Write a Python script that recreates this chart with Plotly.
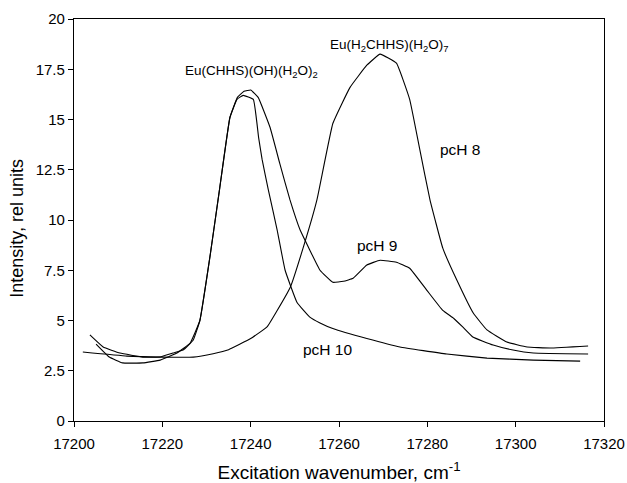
import plotly.graph_objects as go

# pcH 8
x_ph8 = [17202, 17212, 17220, 17227, 17231.5, 17235, 17240, 17243.7, 17246, 17249, 17252, 17255,
         17258.6, 17262.5, 17266.3, 17269.3, 17273, 17276, 17278.3, 17280.6, 17283.5, 17286.7,
         17290.4, 17293.5, 17298, 17302.6, 17307.8, 17316.4]
y_ph8 = [3.43, 3.23, 3.18, 3.18, 3.35, 3.55, 4.1, 4.68, 5.5, 6.67, 8.7, 11.0,
         14.8, 16.6, 17.7, 18.25, 17.8, 16.0, 13.5, 11.0, 8.6, 7.0,
         5.37, 4.53, 3.93, 3.68, 3.63, 3.73]

# pcH 9
x_ph9 = [17203.6, 17206.6, 17210.4, 17215.6, 17219.5, 17222.4, 17224.7, 17227, 17228.5, 17230.8,
         17233, 17235.3, 17237, 17238.5, 17240, 17241.7, 17244.4, 17246.6, 17248.9, 17251.2,
         17253.4, 17255.7, 17258.6, 17261, 17263.2, 17266.3, 17269.3, 17273, 17276, 17279.9,
         17283.5, 17286, 17288, 17290.3, 17294.9, 17299.4, 17304, 17316.4]
y_ph9 = [4.28, 3.68, 3.38, 3.18, 3.18, 3.38, 3.53, 4.03, 5.0, 8.2,
         11.6, 15.1, 16.1, 16.4, 16.47, 16.1, 14.6, 12.8, 11.0, 9.5,
         8.5, 7.5, 6.9, 6.95, 7.1, 7.76, 8.0, 7.9, 7.6, 6.5,
         5.5, 5.1, 4.68, 4.18, 3.78, 3.53, 3.38, 3.33]

# pcH 10
x_ph10 = [17205, 17208, 17211, 17215.6, 17219.5, 17223.3, 17226.3, 17228.5, 17230.8, 17233,
          17235.3, 17236.9, 17238.3, 17240.6, 17241.8, 17242.6, 17244, 17246, 17247.8, 17250.5,
          17253.4, 17255.7, 17258.6, 17266.3, 17273.8, 17284.4, 17293.5, 17304, 17314.6]
y_ph10 = [3.83, 3.18, 2.89, 2.89, 3.03, 3.38, 3.88, 5.0, 8.2, 11.6,
          15.1, 16.0, 16.2, 16.0, 14.1, 13.0, 11.5, 9.5, 7.5, 5.9,
          5.17, 4.88, 4.6, 4.1, 3.68, 3.33, 3.13, 3.03, 2.98]

labels = ["Eu(CHHS)(OH)(H<sub>2</sub>O)<sub>2</sub>", "Eu(H<sub>2</sub>CHHS)(H<sub>2</sub>O)<sub>7</sub>",
          "pcH 8", "pcH 9", "pcH 10"]
label_x = [17240.3, 17271.5, 17287.6, 17268.8, 17257.3]
label_y = [17.4, 18.7, 13.5, 8.75, 3.58]
label_size = [13.5, 13.5, 15.5, 15.5, 15.5]

x_ticks = [17200, 17220, 17240, 17260, 17280, 17300, 17320]
y_ticks = [0, 2.5, 5, 7.5, 10, 12.5, 15, 17.5, 20]

FONT = "Arial, Liberation Sans, sans-serif"

fig = go.Figure()
for xs, ys in [(x_ph8, y_ph8), (x_ph9, y_ph9), (x_ph10, y_ph10)]:
    fig.add_trace(go.Scatter(x=xs, y=ys, mode="lines",
                             line=dict(color="black", width=1.1, shape="spline", smoothing=0.3),
                             showlegend=False, hoverinfo="skip"))

for t, lx, ly, s in zip(labels, label_x, label_y, label_size):
    fig.add_annotation(x=lx, y=ly, text=t, showarrow=False,
                       font=dict(family=FONT, size=s, color="black"))

# y-axis title as a rotated annotation for precise placement
fig.add_annotation(xref="paper", yref="paper", x=-0.108, y=0.48, xanchor="center", yanchor="middle",
                   text="Intensity, rel units", textangle=-90, showarrow=False,
                   font=dict(family=FONT, size=18, color="black"))

axis_common = dict(showline=True, linecolor="black", linewidth=1.3, mirror=True,
                   ticks="outside", ticklen=5, tickcolor="black", showgrid=False,
                   zeroline=False, automargin=False,
                   tickfont=dict(family=FONT, size=15, color="black"))

fig.update_layout(
    width=627, height=483,
    margin=dict(l=74, r=23, t=19, b=62),
    paper_bgcolor="white", plot_bgcolor="white",
    font=dict(family=FONT, color="black"),
    xaxis=dict(range=[17200, 17320], tickvals=x_ticks, ticktext=[str(v) for v in x_ticks],
               ticklabelstandoff=4,
               title=dict(text="Excitation wavenumber, cm<sup>-1</sup>",
                          font=dict(family=FONT, size=19)),
               **axis_common),
    yaxis=dict(range=[0, 20], tickvals=y_ticks, ticktext=[str(v) for v in y_ticks],
               **axis_common),
)

fig.write_html("out.html", config={"displayModeBar": False},
               post_script="document.body.style.margin='0';document.body.style.overflow='hidden';")
